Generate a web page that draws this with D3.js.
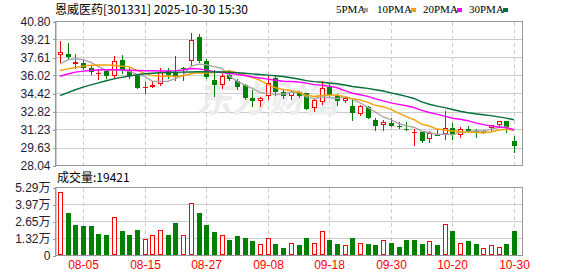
<!DOCTYPE html>
<html>
<head>
<meta charset="utf-8">
<script src="https://cdn.jsdelivr.net/npm/d3@7"></script>
<style>
body { margin: 0; background: #fff; }
svg { display: block; }
</style>
</head>
<body>
<main></main>
<script>
var dates = ["07-31","08-01","08-04","08-05","08-06","08-07","08-08","08-11","08-12","08-13",
    "08-14","08-15","08-18","08-19","08-20","08-21","08-22","08-25","08-26","08-27",
    "08-28","08-29","09-01","09-02","09-03","09-04","09-05","09-08","09-09","09-10",
    "09-11","09-12","09-15","09-16","09-17","09-18","09-19","09-22","09-23","09-24",
    "09-25","09-26","09-29","09-30","10-09","10-10","10-13","10-14","10-15","10-16",
    "10-17","10-20","10-21","10-22","10-23","10-24","10-27","10-28","10-29","10-30"];

var openP = [37.85, 37.88, 36.99, 37.14, 36.66, 36.13, 36.40, 36.01, 37.43, 36.37,
    36.08, 34.99, 34.98, 35.28, 36.37, 36.22, 36.66, 37.34, 39.47, 37.34,
    35.66, 35.19, 36.08, 35.51, 35.13, 34.01, 33.74, 34.18, 35.81, 34.51,
    34.24, 34.54, 34.42, 33.12, 33.65, 34.98, 34.24, 33.74, 33.27, 32.62,
    33.21, 32.03, 31.65, 31.85, 31.53, 31.27, 30.99, 30.99, 30.40, 30.81,
    30.85, 31.38, 30.70, 31.29, 31.11, 30.94, 31.35, 31.65, 31.94, 30.17];
var highP = [39.03, 38.88, 37.94, 37.49, 36.96, 36.61, 36.61, 37.70, 37.79, 36.75,
    36.17, 35.42, 35.57, 36.66, 36.66, 37.70, 36.81, 39.80, 39.65, 37.49,
    36.46, 36.17, 36.52, 35.72, 35.28, 34.69, 34.15, 36.01, 36.01, 34.84,
    34.69, 34.66, 34.45, 34.01, 35.51, 35.22, 34.39, 34.18, 33.80, 33.36,
    33.27, 32.27, 32.03, 32.27, 31.88, 31.88, 31.29, 31.14, 31.14, 31.29,
    32.91, 31.82, 31.43, 31.58, 31.29, 31.20, 31.67, 32.02, 31.96, 30.61];
var lowP = [37.05, 37.41, 36.61, 36.46, 36.08, 35.66, 35.73, 35.72, 36.17, 35.72,
    34.84, 34.39, 34.95, 35.07, 35.72, 35.57, 35.57, 36.90, 37.14, 35.72,
    34.09, 34.84, 35.57, 34.69, 33.80, 33.21, 33.21, 33.80, 34.18, 33.89,
    33.80, 33.99, 32.95, 32.77, 33.42, 34.15, 33.30, 33.60, 31.97, 32.47,
    32.18, 31.14, 31.08, 31.43, 31.23, 31.08, 29.81, 30.05, 30.02, 30.61,
    30.26, 30.34, 30.46, 30.94, 30.49, 30.79, 31.14, 31.38, 30.90, 29.13];
var closeP = [38.08, 37.61, 37.19, 36.66, 36.31, 36.28, 35.95, 37.34, 36.46, 35.95,
    34.89, 35.04, 35.19, 36.31, 36.10, 36.01, 36.61, 39.12, 37.28, 35.86,
    35.13, 35.93, 35.72, 34.98, 34.04, 33.74, 34.04, 35.33, 34.54, 34.18,
    34.54, 34.24, 33.09, 33.80, 34.92, 34.30, 33.74, 34.01, 32.68, 33.27,
    32.27, 31.58, 31.91, 31.52, 31.50, 31.23, 31.00, 30.17, 30.90, 30.64,
    31.38, 30.70, 31.29, 31.14, 31.08, 31.14, 31.65, 32.00, 31.38, 29.75];
var volumes = [49600, 32700, 24100, 23300, 22600, 17100, 16300, 30300, 18700, 15600,
    20200, 13200, 16300, 20200, 15600, 24900, 16300, 41200, 32700, 24100,
    17900, 16300, 12400, 14800, 14000, 10900, 9300, 14000, 9300, 6200,
    10100, 7800, 14000, 10100, 18700, 11700, 8600, 7800, 14000, 10100,
    8600, 7800, 11700, 10100, 7000, 11700, 12400, 9300, 10900, 7800,
    24600, 19400, 10100, 10900, 9300, 6200, 7800, 7000, 9300, 19421];

var ma5 = [37.05, 37.40, 37.50, 37.42, 37.17, 36.81, 36.48, 36.51, 36.47, 36.40,
    36.12, 35.94, 35.51, 35.48, 35.51, 35.73, 36.04, 36.83, 37.02, 36.98,
    36.80, 36.66, 35.98, 35.52, 35.16, 34.88, 34.50, 34.43, 34.34, 34.37,
    34.53, 34.57, 34.12, 33.97, 34.12, 34.07, 33.97, 34.15, 33.93, 33.60,
    33.19, 32.76, 32.34, 32.11, 31.76, 31.55, 31.43, 31.08, 30.96, 30.79,
    30.82, 30.76, 30.98, 31.03, 31.12, 31.07, 31.26, 31.40, 31.45, 31.18];
var ma10 = [36.46, 36.60, 36.72, 36.85, 36.92, 36.95, 36.96, 36.92, 36.85, 36.78,
    36.46, 36.21, 36.01, 35.97, 35.95, 35.92, 35.99, 36.17, 36.25, 36.24,
    36.27, 36.35, 36.41, 36.27, 36.07, 35.84, 35.58, 35.21, 34.93, 34.76,
    34.70, 34.54, 34.27, 34.15, 34.24, 34.30, 34.27, 34.14, 33.95, 33.86,
    33.63, 33.37, 33.25, 33.02, 32.68, 32.37, 32.10, 31.71, 31.54, 31.27,
    31.18, 31.10, 31.03, 31.00, 30.95, 30.94, 31.01, 31.19, 31.24, 31.15];
var ma20 = [35.95, 36.15, 36.31, 36.40, 36.46, 36.50, 36.52, 36.52, 36.50, 36.48,
    36.46, 36.44, 36.43, 36.42, 36.42, 36.45, 36.50, 36.64, 36.60, 36.51,
    36.36, 36.28, 36.21, 36.12, 36.01, 35.88, 35.79, 35.69, 35.59, 35.50,
    35.48, 35.44, 35.34, 35.21, 35.16, 35.07, 34.93, 34.67, 34.44, 34.31,
    34.17, 33.95, 33.76, 33.59, 33.46, 33.33, 33.18, 32.92, 32.74, 32.57,
    32.41, 32.23, 32.14, 32.01, 31.82, 31.66, 31.55, 31.45, 31.39, 31.21];
var ma30 = [34.24, 34.50, 34.75, 34.98, 35.18, 35.36, 35.55, 35.72, 35.85, 35.97,
    36.08, 36.17, 36.22, 36.26, 36.28, 36.30, 36.31, 36.33, 36.35, 36.34,
    36.33, 36.32, 36.30, 36.27, 36.22, 36.16, 36.10, 36.05, 35.99, 35.93,
    35.81, 35.70, 35.56, 35.47, 35.42, 35.35, 35.28, 35.17, 35.04, 34.95,
    34.87, 34.75, 34.64, 34.48, 34.33, 34.17, 33.98, 33.68, 33.47, 33.30,
    33.17, 33.00, 32.85, 32.72, 32.62, 32.54, 32.46, 32.35, 32.24, 32.09];

var priceTicks = [40.80, 39.21, 37.61, 36.02, 34.42, 32.82, 31.23, 29.63, 28.04];
var volTickValues = [52900, 39675, 26450, 13225, 0];
var volTickLabels = ["5.29万", "3.97万", "2.65万", "1.32万", "0"];
var xTickLabels = ["08-05", "08-15", "08-27", "09-08", "09-18", "09-30", "10-20", "10-30"];

var maNames = ["5PMA", "10PMA", "20PMA", "30PMA"];
var maColors = ["#a6a6a6", "#f5a200", "#ff00ff", "#006f3a"];

var RED = "#ff0000", GREEN = "#008000", GRID = "#cccccc", FRAME = "#999999";
var left = 55, right = 522;

var svg = d3.select("main")
    .append("svg")
    .attr("width", 578)
    .attr("height", 276)
    .style("font-family", "'Liberation Sans', Arial, 'Noto Sans CJK SC', sans-serif");

var x = d3.scalePoint()
    .domain(d3.range(dates.length))
    .range([60, 514]);
var y = d3.scaleLinear().domain([28.04, 40.80]).range([165.5, 21.5]);
var yv = d3.scaleLinear().domain([0, 52900]).range([255.5, 187.5]);

function px(i) { return Math.round(x(i)); }

// index of each labelled date
var tickIdx = xTickLabels.map(function (t) { return dates.indexOf(t); });

// --- header
svg.append("text")
    .attr("x", 55).attr("y", 14)
    .style("font-family", "'Noto Sans CJK SC', sans-serif")
    .style("font-size", "12px")
    .attr("fill", "#000")
    .text("恩威医药[301331] 2025-10-30 15:30");

var legendX = [336, 377, 423, 469];
var legend = svg.append("g").attr("class", "legend");
maNames.forEach(function (n, k) {
    legend.append("text")
        .attr("x", legendX[k]).attr("y", 13)
        .style("font-family", "'Liberation Serif', serif")
        .style("font-size", "11px")
        .attr("fill", "#000")
        .text(n);
    legend.append("rect")
        .attr("x", legendX[k] + 27 + (k > 0 ? 7 : 0)).attr("y", 8)
        .attr("width", 5).attr("height", 4)
        .attr("fill", maColors[k]);
});

// --- price panel grid
var pricePanel = svg.append("g").attr("id", "price-panel");
pricePanel.append("g").selectAll("line").data(priceTicks.slice(1, -1))
    .enter().append("line")
    .attr("x1", left).attr("x2", right)
    .attr("y1", function (d) { return Math.round(y(d)) + 0.5; })
    .attr("y2", function (d) { return Math.round(y(d)) + 0.5; })
    .attr("stroke", GRID).attr("shape-rendering", "crispEdges");
pricePanel.append("g").selectAll("line").data(tickIdx)
    .enter().append("line")
    .attr("x1", function (i) { return px(i) + 0.5; })
    .attr("x2", function (i) { return px(i) + 0.5; })
    .attr("y1", 22).attr("y2", 165)
    .attr("stroke", GRID).attr("stroke-dasharray", "4,3")
    .attr("shape-rendering", "crispEdges");

// watermark
pricePanel.append("text")
    .attr("x", 268).attr("y", 112)
    .attr("text-anchor", "middle")
    .style("font-family", "'Noto Sans CJK SC', sans-serif")
    .style("font-size", "36px").style("font-weight", "bold").style("font-style", "italic")
    .attr("fill", "#ececec")
    .text("东方财富");

// candles
var candles = pricePanel.append("g").selectAll("g").data(dates)
    .enter().append("g");

candles.each(function (d, i) {
    var g = d3.select(this);
    var up = closeP[i] >= openP[i];
    var col = up ? RED : GREEN;
    var cx = px(i);
    var top = Math.round(y(Math.max(openP[i], closeP[i])));
    var bot = Math.round(y(Math.min(openP[i], closeP[i])));
    var hi = Math.round(y(highP[i])), lo = Math.round(y(lowP[i]));
    if (bot - top < 1) bot = top + 1;
    if (up) {
        g.append("line").attr("x1", cx + 0.5).attr("x2", cx + 0.5)
            .attr("y1", hi).attr("y2", top).attr("stroke", col);
        g.append("line").attr("x1", cx + 0.5).attr("x2", cx + 0.5)
            .attr("y1", bot).attr("y2", lo).attr("stroke", col);
        g.append("rect")
            .attr("x", cx - 1.5).attr("y", top + 0.5)
            .attr("width", 4).attr("height", Math.max(bot - top - 1, 0.01))
            .attr("fill", "#fff").attr("stroke", col);
    } else {
        g.append("line").attr("x1", cx + 0.5).attr("x2", cx + 0.5)
            .attr("y1", hi).attr("y2", lo).attr("stroke", col);
        g.append("rect")
            .attr("x", cx - 2).attr("y", top)
            .attr("width", 5).attr("height", bot - top)
            .attr("fill", col);
    }
    g.selectAll("*").attr("shape-rendering", "crispEdges");
});

// moving averages
var maLine = d3.line()
    .x(function (d, i) { return x(i); })
    .y(function (d) { return y(d); });
[ma5, ma10, ma20, ma30].forEach(function (arr, k) {
    pricePanel.append("path")
        .datum(arr)
        .attr("d", maLine)
        .attr("fill", "none")
        .attr("stroke", maColors[k])
        .attr("stroke-width", 1.4);
});

// frame + axis
pricePanel.append("rect")
    .attr("x", left + 0.5).attr("y", 21.5)
    .attr("width", right - left).attr("height", 144)
    .attr("fill", "none").attr("stroke", FRAME)
    .attr("shape-rendering", "crispEdges");

var yAxis = svg.append("g")
    .attr("transform", "translate(" + (left + 0.5) + ",0)")
    .call(d3.axisLeft(y).tickValues(priceTicks)
        .tickFormat(d3.format(".2f")).tickSize(3).tickSizeOuter(0).tickPadding(2));

// --- volume panel
var volPanel = svg.append("g").attr("id", "volume-panel");
volPanel.append("text")
    .attr("x", 57).attr("y", 182)
    .style("font-family", "'Noto Sans CJK SC', sans-serif")
    .style("font-size", "12px")
    .attr("fill", "#000")
    .text("成交量:" + volumes[volumes.length - 1]);

volPanel.append("g").selectAll("line").data(volTickValues.slice(1, -1))
    .enter().append("line")
    .attr("x1", left).attr("x2", right)
    .attr("y1", function (d) { return Math.round(yv(d) - 0.5) + 0.5; })
    .attr("y2", function (d) { return Math.round(yv(d) - 0.5) + 0.5; })
    .attr("stroke", GRID).attr("shape-rendering", "crispEdges");
volPanel.append("g").selectAll("line").data(tickIdx)
    .enter().append("line")
    .attr("x1", function (i) { return px(i) + 0.5; })
    .attr("x2", function (i) { return px(i) + 0.5; })
    .attr("y1", 188).attr("y2", 255)
    .attr("stroke", GRID).attr("stroke-dasharray", "4,3")
    .attr("shape-rendering", "crispEdges");

volPanel.append("g").selectAll("rect").data(volumes)
    .enter().append("rect")
    .each(function (v, i) {
        // volume colour follows the day-on-day close
        var up = i === 0 ? closeP[0] >= openP[0] : closeP[i] >= closeP[i - 1];
        var top = Math.round(yv(v));
        var r = d3.select(this).attr("shape-rendering", "crispEdges");
        if (up) {
            r.attr("x", px(i) - 1.5).attr("y", top + 0.5)
                .attr("width", 4).attr("height", 255 - top - 1)
                .attr("fill", "#fff").attr("stroke", RED);
        } else {
            r.attr("x", px(i) - 2).attr("y", top)
                .attr("width", 5).attr("height", 255 - top)
                .attr("fill", GREEN);
        }
    });

volPanel.append("rect")
    .attr("x", left + 0.5).attr("y", 187.5)
    .attr("width", right - left).attr("height", 68)
    .attr("fill", "none").attr("stroke", FRAME)
    .attr("shape-rendering", "crispEdges");

var vAxis = svg.append("g")
    .attr("transform", "translate(" + (left + 0.5) + ",0)")
    .call(d3.axisLeft(yv).tickValues(volTickValues)
        .tickFormat(function (d, i) { return volTickLabels[i]; })
        .tickSize(3).tickSizeOuter(0).tickPadding(2));

[yAxis, vAxis].forEach(function (ax) {
    ax.select(".domain").attr("stroke", FRAME);
    ax.selectAll(".tick line").attr("stroke", FRAME).attr("shape-rendering", "crispEdges");
    ax.selectAll(".tick text")
        .attr("fill", "#1c1c3a")
        .style("font-size", "12px")
        .style("font-family", "'Liberation Sans', Arial, 'Noto Sans CJK SC', sans-serif");
});

// x labels
svg.append("g").selectAll("text").data(tickIdx)
    .enter().append("text")
    .attr("x", function (i) { return px(i) + 0.5; })
    .attr("y", 269)
    .attr("text-anchor", "middle")
    .attr("fill", RED)
    .style("font-size", "12px")
    .text(function (i) { return dates[i]; });
</script>
</body>
</html>
